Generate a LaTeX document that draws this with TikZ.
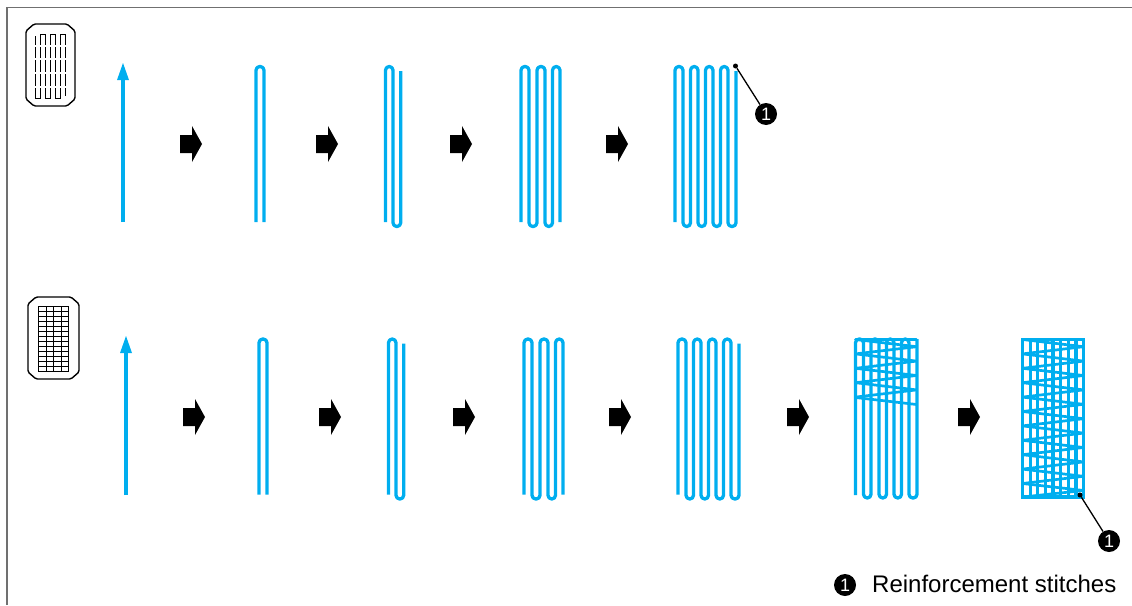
\documentclass[tikz,border=0pt]{standalone}
\usepackage{fontspec}
\setmainfont{Liberation Sans}
\definecolor{stitchblue}{HTML}{00AEEF}
\definecolor{framegray}{HTML}{707070}
\tikzset{
  stitch/.style={draw=stitchblue,line width=3.3pt,rounded corners=3.7pt,line join=round},
  thread/.style={draw=stitchblue,line width=2.7pt,line join=round},
  feedline/.style={draw=stitchblue,line width=3.3pt},
  feedtip/.style={fill=stitchblue,draw=none},
  nextarrow/.style={fill=black,draw=none},
  icon/.style={draw=black,line width=1.4pt,rounded corners=1.5pt},
  badge/.style={circle,fill=black,text=white,inner sep=0pt,minimum size=22pt,font=\fontsize{18}{18}\selectfont},
  leader/.style={draw=black,line width=1.3pt},
  leaderdot/.style={circle,fill=black,inner sep=0pt,minimum size=5pt}
}
\newcommand{\nextarr}[2]{\fill[nextarrow] (#1,#2-9) -- (#1+12,#2-9) -- (#1+12,#2-18) -- (#1+22,#2) -- (#1+12,#2+18) -- (#1+12,#2+9) -- (#1,#2+9) -- cycle;}
\newcommand{\feedarr}[3]{\draw[feedline] (#1,#3) -- (#1,#2+15); \fill[feedtip] (#1,#2) -- (#1+6,#2+17) -- (#1-6,#2+17) -- cycle;}
\newcommand{\zigzag}[2]{% left x, last index
  \draw[thread] (#1,339.5) -- (#1+61,339.5) -- (#1,339.5)
  \foreach \k in {0,...,#2} { -- (#1+61,346.7+14.4*\k) -- (#1,353.9+14.4*\k) };
}
\begin{document}
\begin{tikzpicture}[x=1pt,y=-1pt]
\useasboundingbox (0,0) rectangle (1132,605);
% frame
\draw[framegray,line width=1.4pt] (7,605) -- (7,7.5) -- (1132,7.5);
% icon 1
\draw[icon] (34,24) -- (67,24) -- (75,31) -- (75,99) -- (67,106) -- (34,106) -- (26,99) -- (26,31) -- cycle;
\draw[black,line width=1.6pt] (35.5,36) -- (35.5,98.5) -- (40.5,98.5) -- (40.5,34.5) -- (45.5,34.5) -- (45.5,98.5) -- (50.5,98.5) -- (50.5,34.5) -- (55.5,34.5) -- (55.5,98.5) -- (60.5,98.5) -- (60.5,34.5) -- (65.5,34.5) -- (65.5,96);
\foreach \g in {45.5,58.5,72.5,86.5} {\draw[white,line width=2pt] (33,\g) -- (68,\g);}
% icon 2
\draw[icon] (36,297) -- (71,297) -- (79,304) -- (79,372) -- (71,379) -- (36,379) -- (28,372) -- (28,304) -- cycle;
\foreach \gx in {38.5,46.5,53.5,61.5,68.5} {\draw[black,line width=1.6pt] (\gx,306.5) -- (\gx,371.5);}
\foreach \gy in {0,...,13} {\draw[black,line width=1.6pt] (38,306.5+\gy*5) -- (69.3,306.5+\gy*5);}
% row 1
\feedarr{123}{63}{222}
\nextarr{180}{144}\nextarr{316}{144}\nextarr{450}{144}\nextarr{606}{144}
% row 2
\feedarr{126}{336}{495}
\nextarr{183}{417}\nextarr{319}{417}\nextarr{453}{417}\nextarr{609}{417}\nextarr{787}{417}\nextarr{958}{417}
% repeated sewing sequences
\foreach \sx/\sy in {0/0,3/272.5}{
\begin{scope}[shift={(\sx,\sy)}]
\draw[stitch] (256,222) -- (256,66.5) -- (264,66.5) -- (264,222);
\draw[stitch] (385.5,222) -- (385.5,66.5) -- (393,66.5) -- (393,226.5) -- (400.7,226.5) -- (400.7,71);
\draw[stitch] (521,222) -- (521,66.5) -- (529,66.5) -- (529,226.5) -- (537,226.5) -- (537,66.5) -- (545,66.5) -- (545,226.5) -- (552.5,226.5) -- (552.5,66.5) -- (560,66.5) -- (560,222);
\draw[stitch] (675,222) -- (675,66.5) -- (683,66.5) -- (683,226.5) -- (690.5,226.5) -- (690.5,66.5) -- (698,66.5) -- (698,226.5) -- (705.5,226.5) -- (705.5,66.5) -- (713,66.5) -- (713,226.5) -- (720.5,226.5) -- (720.5,66.5) -- (728,66.5) -- (728,226.5) -- (736,226.5) -- (736,71);
\end{scope}
}
% sixth step, row 2
\draw[stitch] (855.5,495) -- (855.5,339) -- (863.5,339) -- (863.5,498) -- (871,498) -- (871,339) -- (879,339) -- (879,498) -- (886.5,498) -- (886.5,339) -- (894,339) -- (894,498) -- (901.5,498) -- (901.5,339) -- (909,339) -- (909,498) -- (917,498) -- (917,339);
\zigzag{855.5}{3}
\draw[thread] (855.5,397.5) -- (916.5,404.5);
% seventh step, row 2
\draw[feedline] (1022.5,339.5) rectangle (1083.5,497);
\foreach \lx in {1030.2,1037.8,1045.5,1053,1060.7,1068.3,1076} {\draw[feedline] (\lx,339) -- (\lx,497);}
\zigzag{1022.5}{9}
\draw[thread] (1022.5,483.5) -- (1083.5,490.5) -- (1022.5,497) -- (1083.5,497);
% reference marks
\node[leaderdot] (d1) at (735.5,66) {};
\node[badge] (b1) at (766,114) {1};
\draw[leader] (d1) -- (b1);
\node[leaderdot] (d2) at (1080,495) {};
\node[badge] (b2) at (1109,541) {1};
\draw[leader] (d2) -- (b2);
\node[badge] (b3) at (845,585) {1};
\node[anchor=base west,inner sep=0pt,font=\fontsize{24}{24}\selectfont] (legend) at (872,592) {Reinforcement stitches};
\end{tikzpicture}
\end{document}
